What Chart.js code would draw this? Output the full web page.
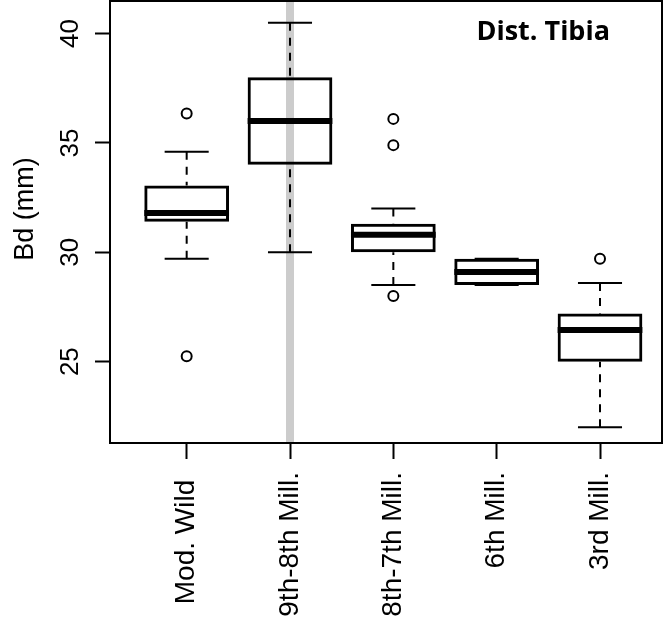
<!DOCTYPE html>
<html>
<head>
<meta charset="utf-8">
<script src="https://cdn.jsdelivr.net/npm/chart.js@4"></script>
<style>
  html, body { margin: 0; padding: 0; background: #fff; }
  #wrap { width: 671px; height: 624px; position: relative; }
</style>
</head>
<body>
<div id="wrap"><canvas id="boxChart"></canvas></div>
<script>
// Box plot values (Bd, mm)
const categories = ['Mod. Wild ', '9th-8th Mill.', '8th-7th Mill.', '6th Mill.', '3rd Mill.'];
const whiskerLow = [29.7, 30.0, 28.5, 28.5, 22.0];
const boxLow = [31.4, 34.0, 30.0, 28.5, 25.0];
const medians = [31.8, 36.0, 30.8, 29.1, 26.45];
const boxHigh = [33.05, 38.0, 31.3, 29.7, 27.2];
const whiskerHigh = [34.6, 40.5, 32.0, 29.7, 28.6];
const outliers = [[36.35, 25.25], [], [36.1, 34.9, 28.0], [], [29.7]];
const yTicks = [25, 30, 35, 40];
const highlightCategory = 1; // grey band behind 9th-8th Mill.

const boxData = categories.map((c, i) => ({ x: i + 1, y: [boxLow[i], boxHigh[i]] }));
const outlierData = [];
outliers.forEach((list, i) => list.forEach(v => outlierData.push({ x: i + 1, y: v })));

// whiskers, caps, medians, frame and text
const boxExtras = {
  id: 'boxExtras',
  beforeDatasetsDraw(chart) {
    const { ctx, chartArea, scales } = chart;
    const x = scales.x.getPixelForValue(highlightCategory + 1);
    ctx.save();
    ctx.fillStyle = '#cccccc';
    ctx.fillRect(x - 4, chartArea.top, 8, chartArea.bottom - chartArea.top);
    ctx.restore();
  },
  afterDatasetsDraw(chart) {
    const { ctx, scales } = chart;
    const y = scales.y;
    const bars = chart.getDatasetMeta(0).data;
    ctx.save();
    ctx.strokeStyle = '#000';
    bars.forEach((bar, i) => {
      const half = bar.width / 2;
      const capHalf = bar.width * 0.26;
      const yLo = y.getPixelForValue(whiskerLow[i]);
      const yHi = y.getPixelForValue(whiskerHigh[i]);
      const yB1 = y.getPixelForValue(boxLow[i]);
      const yB3 = y.getPixelForValue(boxHigh[i]);
      // dashed whiskers, dash starting at the cap
      ctx.lineWidth = 2;
      ctx.setLineDash([8, 7]);
      ctx.beginPath();
      ctx.moveTo(bar.x, yLo); ctx.lineTo(bar.x, yB1);
      ctx.moveTo(bar.x, yHi); ctx.lineTo(bar.x, yB3);
      ctx.stroke();
      ctx.setLineDash([]);
      // caps
      ctx.beginPath();
      ctx.moveTo(bar.x - capHalf, yLo); ctx.lineTo(bar.x + capHalf, yLo);
      ctx.moveTo(bar.x - capHalf, yHi); ctx.lineTo(bar.x + capHalf, yHi);
      ctx.stroke();
      // median
      const ym = y.getPixelForValue(medians[i]);
      ctx.lineWidth = 6;
      ctx.beginPath();
      ctx.moveTo(bar.x - half, ym); ctx.lineTo(bar.x + half, ym);
      ctx.stroke();
    });
    ctx.restore();
  },
  afterDraw(chart) {
    const { ctx, chartArea } = chart;
    ctx.save();
    ctx.strokeStyle = '#000';
    ctx.lineWidth = 2;
    ctx.strokeRect(chartArea.left, chartArea.top, chartArea.right - chartArea.left, chartArea.bottom - chartArea.top);

    ctx.fillStyle = '#000';
    ctx.font = 'bold 27px "Open Sans"';
    ctx.textAlign = 'right';
    ctx.textBaseline = 'alphabetic';
    ctx.fillText('Dist. Tibia', 610, 40);

    ctx.font = '27px "Liberation Sans"';
    ctx.translate(26, 209);
    ctx.rotate(-Math.PI / 2);
    ctx.textAlign = 'center';
    ctx.textBaseline = 'middle';
    ctx.fillText('Bd (mm)', 0, 0);
    ctx.restore();
  }
};

new Chart(document.getElementById('boxChart').getContext('2d'), {
  type: 'bar',
  data: {
    datasets: [{
      label: 'box',
      data: boxData,
      backgroundColor: 'rgba(0,0,0,0)',
      borderColor: '#000',
      borderWidth: 3,
      borderSkipped: false,
      categoryPercentage: 0.82,
      barPercentage: 1
    }, {
      type: 'scatter',
      label: 'outliers',
      data: outlierData,
      pointStyle: 'circle',
      pointRadius: 5,
      pointBorderWidth: 2,
      pointBorderColor: '#000',
      pointBackgroundColor: 'rgba(0,0,0,0)'
    }]
  },
  options: {
    responsive: true,
    maintainAspectRatio: false,
    animation: false,
    layout: { autoPadding: false, padding: { top: 1, right: 9, left: 0, bottom: 0 } },
    plugins: { legend: { display: false }, tooltip: { enabled: false }, title: { display: false } },
    scales: {
      x: {
        type: 'linear',
        min: 0.258,
        max: 5.6,
        offset: false,
        afterBuildTicks: scale => { scale.ticks = categories.map((c, i) => ({ value: i + 1 })); },
        afterFit: scale => {
          scale.height = 181;
          scale.paddingLeft = 0;
          scale.paddingRight = 0;
        },
        grid: { offset: false, drawOnChartArea: false, drawTicks: true, tickLength: 16, tickWidth: 2, tickColor: '#000' },
        border: { display: false },
        ticks: {
          autoSkip: false,
          minRotation: 90,
          maxRotation: 90,
          padding: 13,
          color: '#000',
          font: { family: '"Liberation Sans"', size: 28 },
          callback: v => categories[v - 1]
        }
      },
      y: {
        type: 'linear',
        min: 21.28,
        max: 41.49,
        afterBuildTicks: scale => { scale.ticks = yTicks.map(v => ({ value: v })); },
        afterFit: scale => {
          scale.width = 110;
          scale.paddingTop = 0;
          scale.paddingBottom = 0;
        },
        grid: { drawOnChartArea: false, drawTicks: true, tickLength: 15, tickWidth: 2, tickColor: '#000' },
        border: { display: false },
        ticks: {
          minRotation: 90,
          maxRotation: 90,
          crossAlign: 'center',
          padding: 10,
          color: '#000',
          font: { family: '"Liberation Sans"', size: 26 }
        }
      }
    }
  },
  plugins: [boxExtras]
});
</script>
</body>
</html>
